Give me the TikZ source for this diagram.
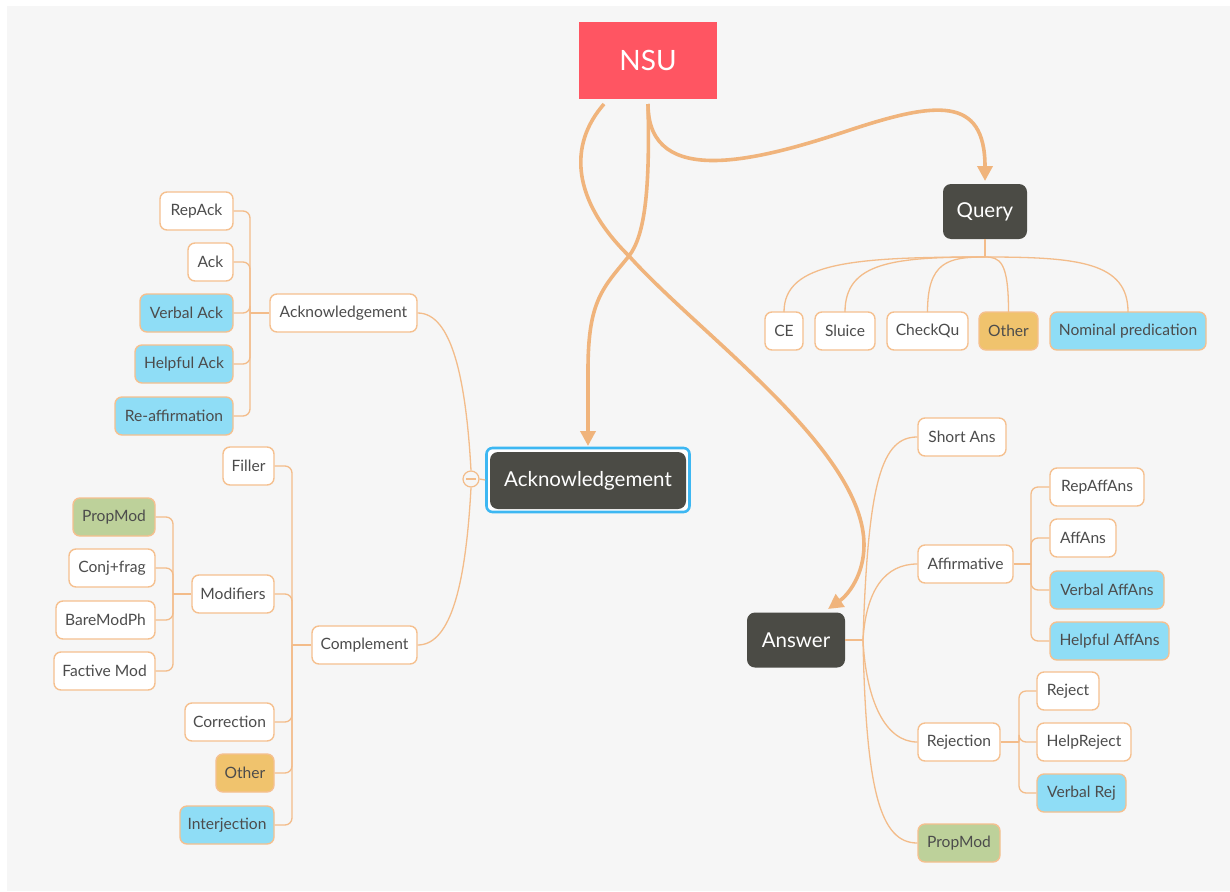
\documentclass[tikz,border=0pt]{standalone}
\usepackage{fontspec}
\setmainfont{Lato}
\usetikzlibrary{arrows.meta}
\definecolor{bg}{HTML}{F6F6F6}
\definecolor{thick}{HTML}{F0B47C}
\definecolor{thin}{HTML}{F3BC8A}
\definecolor{edge}{HTML}{F5C08F}
\definecolor{dark}{HTML}{4B4B45}
\definecolor{nsured}{HTML}{FF5562}
\definecolor{blfill}{HTML}{8FDDF6}
\definecolor{orfill}{HTML}{F0C36D}
\definecolor{grfill}{HTML}{BDD19A}
\definecolor{txt}{HTML}{4C4C4C}
\definecolor{ring}{HTML}{3DB7F2}
\begin{document}
\begin{tikzpicture}[x=1pt,y=-1pt,
  leaf/.style={draw=edge,line width=1.4pt,fill=white,rounded corners=7pt,inner sep=0pt,
    minimum height=38pt,text=txt,font=\fontsize{15.6}{18}\selectfont},
  bleaf/.style={leaf,fill=blfill},
  oleaf/.style={leaf,fill=orfill},
  gleaf/.style={leaf,fill=grfill},
  topic/.style={fill=dark,rounded corners=8pt,inner sep=0pt,minimum height=55pt,
    text=white,font=\fontsize{20.5}{24}\selectfont},
  conn/.style={draw=thin,line width=1.3pt},
  tree/.style={conn,rounded corners=7pt},
  bigarrow/.style={draw=thick,line width=3.6pt,-{Triangle[length=15pt,width=15pt]}},
]
\useasboundingbox (0,0) rectangle (1230,891);
\fill[bg] (7,6) rectangle (1230,891);

% ---- main nodes
\node[fill=nsured,minimum width=138pt,minimum height=77pt,inner sep=0pt,text=white,
  font=\fontsize{28}{32}\selectfont] (nsu) at (648,60.5) {NSU};
\node[topic,minimum width=84pt] (query) at (985,211.5) {Query};
\node[draw=ring,line width=2.6pt,fill=white,rounded corners=6pt,minimum width=203pt,
  minimum height=64pt] (ring) at (588,480) {};
\node[topic,minimum width=196pt,minimum height=57pt] (ack) at (588,480.5) {Acknowledgement};
\node[topic,minimum width=98pt] (answer) at (796,640) {Answer};

% ---- query children
\node[leaf,minimum width=38pt] (ce) at (784,331) {CE};
\node[leaf,minimum width=60pt] (sluice) at (845,331) {Sluice};
\node[leaf,minimum width=81pt] (checkqu) at (927.5,331) {CheckQu};
\node[oleaf,minimum width=59pt] (qother) at (1008.5,331) {Other};
\node[bleaf,minimum width=156pt] (nompred) at (1128,331) {Nominal predication};

\coordinate (qh) at (985,257);
\draw[conn] (query.south) -- (qh);
\foreach \cx in {784,845,927.5,1008.5,1128}{
  \draw[conn] (qh) .. controls ({985+0.65*(\cx-985)},257) and (\cx,262) .. (\cx,312);
}

% ---- left side
\node[leaf,minimum width=147pt] (acksub) at (343.5,313) {Acknowledgement};
\node[leaf,minimum width=105pt] (comp) at (364.5,645) {Complement};

\node[leaf,minimum width=73pt] (repack) at (196.5,211) {RepAck};
\node[leaf,minimum width=45pt] (ackl) at (210.5,262) {Ack};
\node[bleaf,minimum width=93pt] (verback) at (186.5,313) {Verbal Ack};
\node[bleaf,minimum width=98pt] (helpack) at (184,364) {Helpful Ack};
\node[bleaf,minimum width=118pt] (reaff) at (174,416) {Re-affirmation};

\node[leaf,minimum width=51pt] (filler) at (248.5,466) {Filler};
\node[leaf,minimum width=82pt] (modif) at (233,594) {Modifiers};
\node[leaf,minimum width=89pt] (correct) at (229.5,722) {Correction};
\node[oleaf,minimum width=58pt] (lother) at (245,773) {Other};
\node[bleaf,minimum width=94pt] (interj) at (227,825) {Interjection};

\node[gleaf,minimum width=82pt] (propmod) at (114,517) {PropMod};
\node[leaf,minimum width=86pt] (conjfrag) at (112,568) {Conj+frag};
\node[leaf,minimum width=99pt] (baremod) at (105.5,620) {BareModPh};
\node[leaf,minimum width=101pt] (factive) at (104.5,671) {Factive Mod};

\coordinate (ta) at (250,313);
\foreach \c in {repack,ackl,verback,helpack,reaff}{ \draw[tree] (\c.east) -| (ta); }
\draw[conn] (ta) -- (acksub.west);

\coordinate (tc) at (292,645);
\foreach \c in {filler,modif,correct,lother,interj}{ \draw[tree] (\c.east) -| (tc); }
\draw[conn] (tc) -- (comp.west);

\coordinate (tm) at (173,594);
\foreach \c in {propmod,conjfrag,baremod,factive}{ \draw[tree] (\c.east) -| (tm); }
\draw[conn] (tm) -- (modif.west);

% collapse circle
\node[circle,draw=thin,line width=1.2pt,fill=bg,minimum size=16pt,inner sep=0pt] (coll) at (471,479) {};
\draw[draw=thin,line width=1.2pt] (466,479) -- (476,479);
\draw[conn] (coll.east) -- (ring.west);
\draw[conn] (coll.north) .. controls (466,380) and (452,313) .. (acksub.east);
\draw[conn] (coll.south) .. controls (466,580) and (452,645) .. (comp.east);

% ---- right side
\node[leaf,minimum width=88pt] (shortans) at (962,437) {Short Ans};
\node[leaf,minimum width=95pt] (affirm) at (965.5,564) {Affirmative};
\node[leaf,minimum width=82pt] (reject) at (959,742) {Rejection};
\node[gleaf,minimum width=82pt] (rpropmod) at (959,843) {PropMod};

\node[leaf,minimum width=94pt] (repaff) at (1097,487) {RepAffAns};
\node[leaf,minimum width=66pt] (affans) at (1083,538) {AffAns};
\node[bleaf,minimum width=114pt] (verbaff) at (1107,590) {Verbal AffAns};
\node[bleaf,minimum width=119pt] (helpaff) at (1109.5,641) {Helpful AffAns};

\node[leaf,minimum width=62pt] (rej1) at (1068,691) {Reject};
\node[leaf,minimum width=94pt] (helprej) at (1084,742) {HelpReject};
\node[bleaf,minimum width=89pt] (verbrej) at (1081.5,793) {Verbal Rej};

\coordinate (ah) at (863,640);
\draw[conn] (answer.east) -- (ah);
\draw[conn] (ah) .. controls (868,480) and (882,437) .. (shortans.west);
\draw[conn] (ah) .. controls (866,590) and (885,564) .. (affirm.west);
\draw[conn] (ah) .. controls (866,700) and (885,742) .. (reject.west);
\draw[conn] (ah) .. controls (866,790) and (880,843) .. (rpropmod.west);

\coordinate (tf) at (1031,564);
\foreach \c in {repaff,affans,verbaff,helpaff}{ \draw[tree] (\c.west) -| (tf); }
\draw[conn] (affirm.east) -- (tf);

\coordinate (tr) at (1019,742);
\foreach \c in {rej1,helprej,verbrej}{ \draw[tree] (\c.west) -| (tr); }
\draw[conn] (reject.east) -- (tr);

% ---- thick arrows
\coordinate (s1) at (648,104);
\coordinate (s2) at (604,104);
\coordinate (x1) at (629,256);
\coordinate (w1) at (850,130);
\coordinate (tq) at (985,181);
\coordinate (ta2) at (588,446);
\coordinate (tn) at (828,609);
\draw[bigarrow] (s1) .. controls (648,190) and (760,160) .. (w1)
  .. controls (935,102) and (985,95) .. (tq);
\draw[bigarrow] (s1) .. controls (650,190) and (645,235) .. (x1)
  .. controls (603,288) and (588,300) .. (588,370) -- (ta2);
\draw[bigarrow] (s2) .. controls (568,145) and (572,200) .. (x1)
  .. controls (700,335) and (864,450) .. (864,545)
  .. controls (864,575) and (848,595) .. (tn);
\end{tikzpicture}
\end{document}
